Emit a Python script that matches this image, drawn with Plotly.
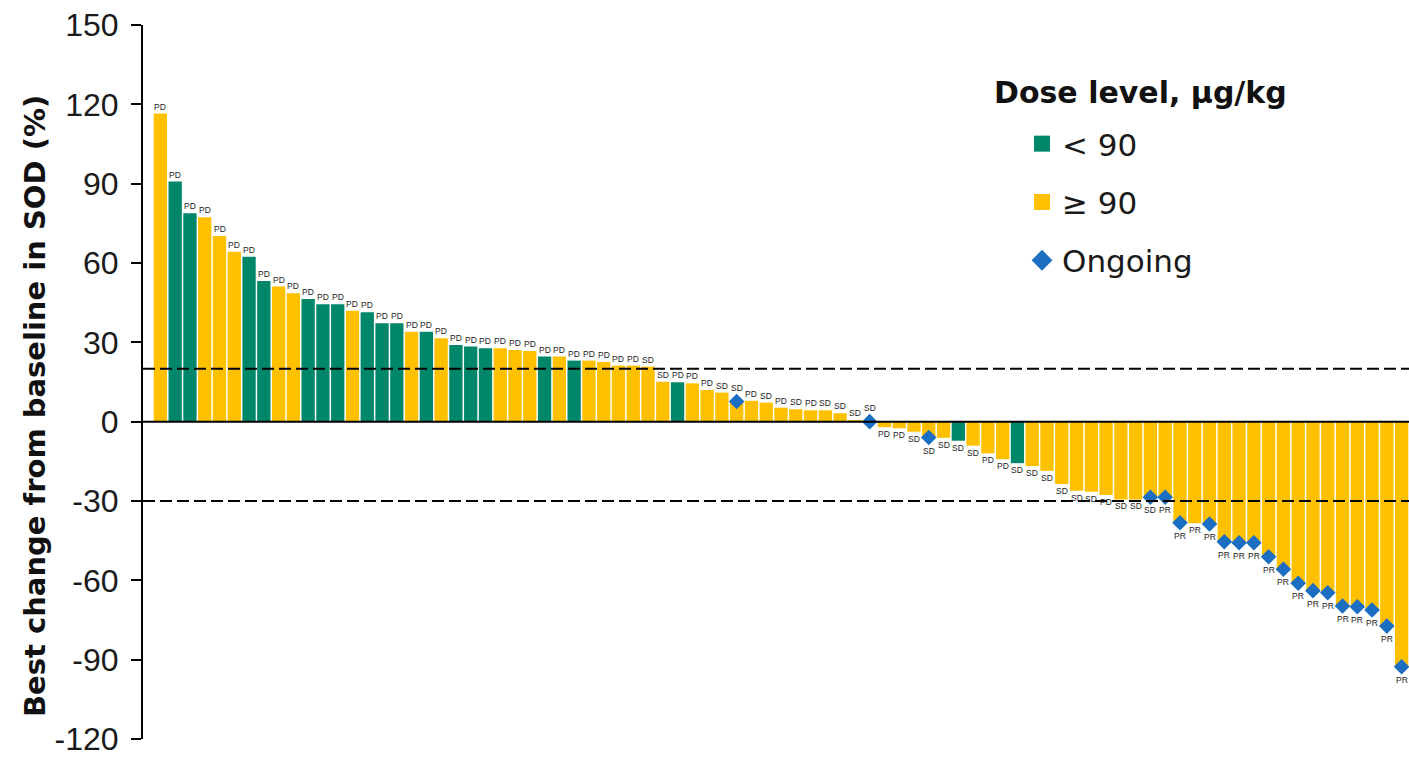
import plotly.graph_objects as go

# ---- data ----
values = [116.5, 90.8, 78.8, 77.3, 70.2, 64.3, 62.4, 53.2, 51.1, 48.6,
          46.4, 44.4, 44.4, 41.9, 41.4, 37.2, 37.2, 34.0, 34.0, 31.5,
          29.0, 28.4, 27.8, 27.8, 27.1, 26.7, 24.6, 24.6, 23.1, 23.1,
          22.6, 21.2, 21.2, 20.8, 15.1, 14.9, 14.5, 12.0, 11.0, 7.6,
          7.9, 7.2, 5.3, 4.7, 4.3, 4.3, 3.2, 0.5, 0.0, -2.1,
          -2.5, -3.8, -6.0, -6.1, -7.2, -9.1, -12.0, -14.2, -15.7, -16.8,
          -18.6, -23.6, -26.1, -26.5, -27.7, -29.4, -29.4, -28.6, -28.6, -38.2,
          -38.4, -38.7, -45.4, -45.8, -45.8, -51.1, -55.8, -61.1, -63.9, -64.7,
          -69.7, -70.0, -71.2, -77.3, -92.7]

low_dose = {2, 3, 7, 8, 11, 12, 13, 15, 16, 17, 19, 21, 22, 23, 27, 29, 36, 55, 59}  # patient numbers (1-based), < 90

responses = (["PD"] * 33 + ["SD", "SD", "PD", "PD", "PD", "SD", "SD", "PD", "SD", "PD",
             "SD", "PD", "SD", "SD", "SD", "SD", "PD", "PD", "SD", "SD",
             "SD", "SD", "SD", "PD", "PD", "SD", "SD", "SD", "SD", "SD",
             "SD", "PD", "SD", "SD", "SD"] + ["PR"] * 18)

ongoing = {40, 49, 53, 68, 69, 70, 72, 73, 74, 75, 76, 77, 78, 79, 80, 81, 82, 83, 84, 85}

tick_vals = [-120, -90, -60, -30, 0, 30, 60, 90, 120, 150]
tick_text = ["-120", "-90", "-60", "-30", "0", "30", "60", "90", "120", "150"]
ref_lines = [20, -30]

GREEN = "#00876A"
YELLOW = "#FFC000"
BLUE = "#1B6EC2"
WIDE = "DejaVu Sans, Verdana, sans-serif"
ARIAL = "Liberation Sans, Arial, sans-serif"

n = len(values)
idx = list(range(n))
colors = [GREEN if (i + 1) in low_dose else YELLOW for i in idx]

fig = go.Figure()
fig.add_trace(go.Bar(x=idx, y=values, marker=dict(color=colors, line=dict(width=0)),
                     showlegend=False, hoverinfo="y"))

ong_x = [i for i in idx if (i + 1) in ongoing]
ong_y = [values[i] for i in ong_x]
fig.add_trace(go.Scatter(x=ong_x, y=ong_y, mode="markers",
                         marker=dict(symbol="diamond", size=12, color=BLUE),
                         showlegend=False, hoverinfo="skip"))

# legend entries
fig.add_trace(go.Scatter(x=[None], y=[None], mode="markers", name="< 90", legendgroup="a",
                         marker=dict(symbol="square", size=16, color=GREEN)))
fig.add_trace(go.Scatter(x=[None], y=[None], mode="markers", name="\u2265 90", legendgroup="b",
                         marker=dict(symbol="square", size=16, color=YELLOW)))
fig.add_trace(go.Scatter(x=[None], y=[None], mode="markers", name="Ongoing", legendgroup="c",
                         marker=dict(symbol="diamond", size=16, color=BLUE)))

# response labels
annotations = []
for i in idx:
    v = values[i]
    is_on = (i + 1) in ongoing
    if v >= 0:
        annotations.append(dict(x=i, y=v, xref="x", yref="y", text=responses[i], showarrow=False,
                                yanchor="bottom", yshift=(7 if is_on else 0),
                                font=dict(size=8.5, color="#222222", family=ARIAL)))
    else:
        annotations.append(dict(x=i, y=v, xref="x", yref="y", text=responses[i], showarrow=False,
                                yanchor="top", yshift=(-6 if is_on else 0),
                                font=dict(size=8.5, color="#222222", family=ARIAL)))

L = 143
W = 1409 - L
H = 714
# y axis title
annotations.append(dict(xref="paper", yref="paper", x=(35 - L) / W, y=(739 - 406) / H,
                        text="<b>Best change from baseline in SOD (%)</b>", textangle=-90,
                        showarrow=False, xanchor="center", yanchor="middle",
                        font=dict(size=29, color="#111111", family=WIDE)))
# legend title
annotations.append(dict(xref="paper", yref="paper", x=(992 - L) / W, y=(739 - 92) / H,
                        text="<b>Dose level, \u00b5g/kg</b>", showarrow=False,
                        xanchor="left", yanchor="middle",
                        font=dict(size=30, color="#111111", family=WIDE)))

shapes = [dict(type="line", xref="paper", x0=0, x1=1, yref="y", y0=0, y1=0,
               line=dict(color="black", width=2), layer="above")]
for r in ref_lines:
    shapes.append(dict(type="line", xref="paper", x0=0, x1=1, yref="y", y0=r, y1=r,
                       line=dict(color="black", width=2, dash="12px,5px"), layer="above"))

fig.update_layout(
    width=1409, height=759,
    margin=dict(l=L, r=0, t=25, b=20),
    paper_bgcolor="white", plot_bgcolor="white",
    bargap=0.1,
    font=dict(family=ARIAL, color="#1a1a1a"),
    xaxis=dict(range=[-1.177, 84.5], visible=False, fixedrange=True),
    yaxis=dict(range=[-120, 150], tickvals=tick_vals, ticktext=tick_text,
               showgrid=False, zeroline=False, showline=True, linecolor="black", linewidth=2,
               ticks="outside", ticklen=10, tickwidth=2, tickcolor="black",
               ticklabelstandoff=6,
               tickfont=dict(size=32, color="#1a1a1a", family=ARIAL)),
    legend=dict(x=(1022 - L) / W, y=(739 - 117) / H, xanchor="left", yanchor="top",
                font=dict(size=31, color="#1a1a1a", family=WIDE), tracegroupgap=15,
                bgcolor="rgba(0,0,0,0)"),
    annotations=annotations,
    shapes=shapes,
)

fig.write_html("out.html")
